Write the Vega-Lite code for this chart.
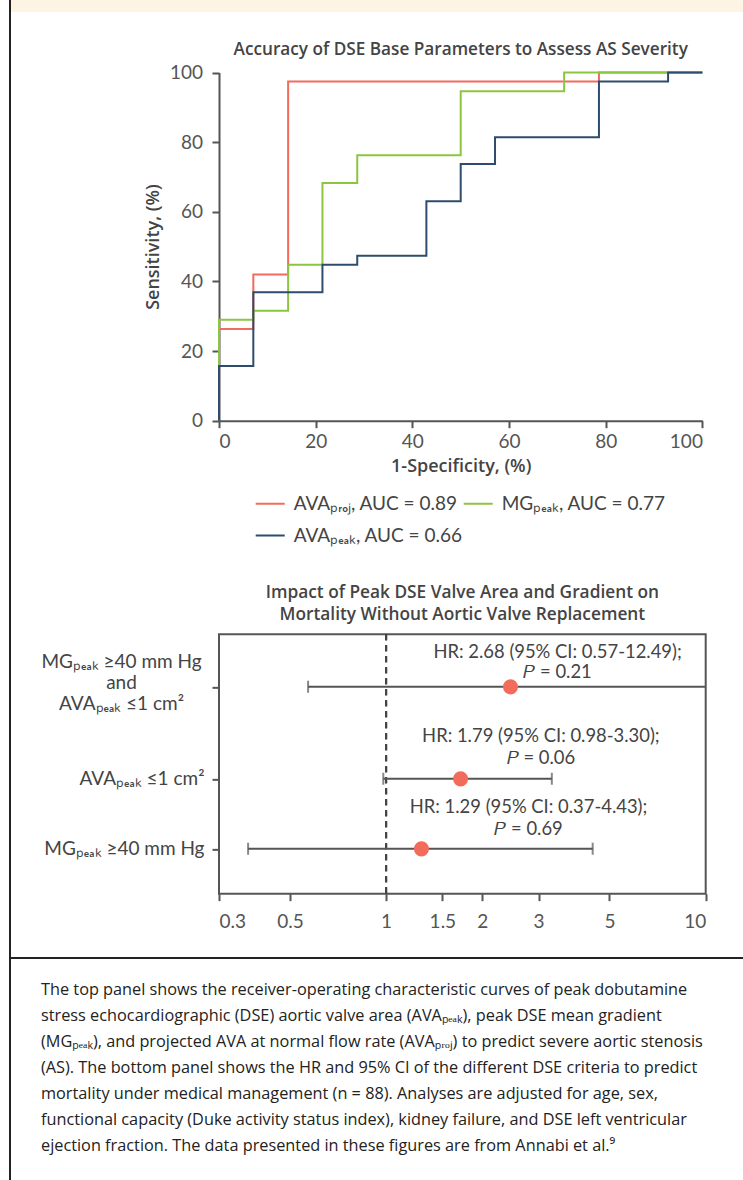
{
  "$schema": "https://vega.github.io/schema/vega-lite/v6.json",
  "padding": {"left": 9, "top": 0, "right": 0, "bottom": 0},
  "autosize": {"type": "pad"},
  "background": "white",
  "bounds": "flush",
  "spacing": 0,
  "config": {
    "font": "Lato",
    "view": {"stroke": null},
    "axis": {"grid": false, "labelFont": "Lato", "titleFont": "Open Sans"},
    "legend": {"labelFont": "Lato"},
    "title": {"font": "Open Sans"}
  },
  "datasets": {
    "roc": [
      {"series": "AVAₚᵣₒⱼ, AUC = 0.89", "k": 0, "fpr": 0, "tpr": 0},
      {"series": "AVAₚᵣₒⱼ, AUC = 0.89", "k": 1, "fpr": 0, "tpr": 26.3},
      {"series": "AVAₚᵣₒⱼ, AUC = 0.89", "k": 2, "fpr": 7.1, "tpr": 42.0},
      {"series": "AVAₚᵣₒⱼ, AUC = 0.89", "k": 3, "fpr": 14.3, "tpr": 97.4},
      {"series": "AVAₚᵣₒⱼ, AUC = 0.89", "k": 4, "fpr": 78.6, "tpr": 100},
      {"series": "AVAₚᵣₒⱼ, AUC = 0.89", "k": 5, "fpr": 100, "tpr": 100},
      {"series": "MGₚₑₐₖ, AUC = 0.77", "k": 0, "fpr": 0, "tpr": 0},
      {"series": "MGₚₑₐₖ, AUC = 0.77", "k": 1, "fpr": 0, "tpr": 29.0},
      {"series": "MGₚₑₐₖ, AUC = 0.77", "k": 2, "fpr": 7.1, "tpr": 31.6},
      {"series": "MGₚₑₐₖ, AUC = 0.77", "k": 3, "fpr": 14.3, "tpr": 44.8},
      {"series": "MGₚₑₐₖ, AUC = 0.77", "k": 4, "fpr": 21.4, "tpr": 68.3},
      {"series": "MGₚₑₐₖ, AUC = 0.77", "k": 5, "fpr": 28.6, "tpr": 76.2},
      {"series": "MGₚₑₐₖ, AUC = 0.77", "k": 6, "fpr": 50.0, "tpr": 94.6},
      {"series": "MGₚₑₐₖ, AUC = 0.77", "k": 7, "fpr": 71.4, "tpr": 100},
      {"series": "MGₚₑₐₖ, AUC = 0.77", "k": 8, "fpr": 100, "tpr": 100},
      {"series": "AVAₚₑₐₖ, AUC = 0.66", "k": 0, "fpr": 0, "tpr": 0},
      {"series": "AVAₚₑₐₖ, AUC = 0.66", "k": 1, "fpr": 0, "tpr": 15.7},
      {"series": "AVAₚₑₐₖ, AUC = 0.66", "k": 2, "fpr": 7.1, "tpr": 36.9},
      {"series": "AVAₚₑₐₖ, AUC = 0.66", "k": 3, "fpr": 21.4, "tpr": 44.8},
      {"series": "AVAₚₑₐₖ, AUC = 0.66", "k": 4, "fpr": 28.6, "tpr": 47.4},
      {"series": "AVAₚₑₐₖ, AUC = 0.66", "k": 5, "fpr": 42.9, "tpr": 63.0},
      {"series": "AVAₚₑₐₖ, AUC = 0.66", "k": 6, "fpr": 50.0, "tpr": 73.7},
      {"series": "AVAₚₑₐₖ, AUC = 0.66", "k": 7, "fpr": 57.1, "tpr": 81.4},
      {"series": "AVAₚₑₐₖ, AUC = 0.66", "k": 8, "fpr": 78.6, "tpr": 97.4},
      {"series": "AVAₚₑₐₖ, AUC = 0.66", "k": 9, "fpr": 92.9, "tpr": 100},
      {"series": "AVAₚₑₐₖ, AUC = 0.66", "k": 10, "fpr": 100, "tpr": 100}
    ],
    "forest": [
      {"row": 1, "hr": 2.45, "lo": 0.57, "hi": 12.49, "label": "HR: 2.68 (95% CI: 0.57-12.49);\n𝑃 = 0.21"},
      {"row": 2, "hr": 1.71, "lo": 0.98, "hi": 3.30, "label": "HR: 1.79 (95% CI: 0.98-3.30);\n𝑃 = 0.06"},
      {"row": 3, "hr": 1.29, "lo": 0.37, "hi": 4.43, "label": "HR: 1.29 (95% CI: 0.37-4.43);\n𝑃 = 0.69"}
    ]
  },
  "hconcat": [
    {"width": 2, "height": 1180, "data": {"values": []}, "mark": "point", "view": {"fill": "#222222", "stroke": null}},
    {
      "spacing": 0,
      "vconcat": [
        {"width": 732, "height": 12, "data": {"values": []}, "mark": "point", "view": {"fill": "#fef4e4", "stroke": null}},
        {
          "bounds": "flush",
          "spacing": 0,
          "hconcat": [
            {"width": 207.3, "height": 558.6, "data": {"values": []}, "mark": "point"},
            {
              "width": 483.4,
              "height": 408.7,
              "title": {"text": "Accuracy of DSE Base Parameters to Assess AS Severity", "frame": "group", "anchor": "middle", "baseline": "alphabetic", "offset": -60.2, "fontSize": 17.2, "fontWeight": 600, "color": "#444444"},
              "layer": [
                {
                  "mark": {"type": "rule", "color": "#444444", "strokeWidth": 2},
                  "encoding": {"x": {"datum": 0, "type": "quantitative"}, "y": {"datum": 0, "type": "quantitative"}, "x2": {"datum": 100}, "y2": {"datum": 100}}
                },
                {
                  "data": {"name": "roc"},
                  "mark": {"type": "line", "interpolate": "step-after", "strokeWidth": 2},
                  "encoding": {
                    "x": {"field": "fpr", "type": "quantitative", "scale": {"domain": [0, 100], "nice": false},
                      "axis": {"values": [0, 20, 40, 60, 80, 100], "title": "1-Specificity, (%)", "tickSize": 7, "tickWidth": 2, "tickColor": "#555555", "domainColor": "#555555", "domainWidth": 2, "labelFontSize": 19, "labelColor": "#555555", "labelPadding": 5, "titleFontSize": 18, "titleFontWeight": 600, "titleColor": "#444444", "titlePadding": 6}},
                    "y": {"field": "tpr", "type": "quantitative", "scale": {"domain": [0, 100], "range": [408.7, 60.5], "nice": false},
                      "axis": {"values": [0, 20, 40, 60, 80, 100], "title": "Sensitivity, (%)", "tickSize": 7, "tickWidth": 2, "tickColor": "#555555", "domainColor": "#555555", "domainWidth": 2, "labelFontSize": 19, "labelColor": "#555555", "labelPadding": 9.5, "titleFontSize": 18, "titleFontWeight": 600, "titleColor": "#444444", "titlePadding": 7}},
                    "color": {"field": "series", "type": "nominal",
                      "scale": {"domain": ["AVAₚᵣₒⱼ, AUC = 0.89", "MGₚₑₐₖ, AUC = 0.77", "AVAₚₑₐₖ, AUC = 0.66"], "range": ["#f26b5b", "#8cc540", "#2e4c6d"]},
                      "legend": {"orient": "none", "legendX": 245.7, "legendY": 488, "direction": "horizontal", "columns": 2, "title": null, "symbolType": "stroke", "symbolSize": 841, "symbolStrokeWidth": 2, "labelFontSize": 19, "labelColor": "#444444", "labelOffset": 8, "columnPadding": -15, "rowPadding": 6, "labelLimit": 0}},
                    "order": {"field": "k", "type": "quantitative"}
                  }
                }
              ]
            }
          ]
        },
        {
          "bounds": "flush",
          "spacing": 0,
          "center": true,
          "hconcat": [
            {"width": 207.3, "height": 385.1, "data": {"values": []}, "mark": "point"},
            {
              "width": 486.7,
              "height": 259.3,
              "view": {"stroke": "#555555", "strokeWidth": 2},
              "title": {"text": ["Impact of Peak DSE Valve Area and Gradient on", "Mortality Without Aortic Valve Replacement"], "frame": "group", "anchor": "middle", "offset": 10, "fontSize": 17.3, "lineHeight": 21.7, "fontWeight": 600, "color": "#444444"},
              "data": {"name": "forest"},
              "layer": [
                {
                  "mark": {"type": "rule", "strokeDash": [6, 5], "strokeWidth": 2, "color": "#444444"},
                  "encoding": {"x": {"datum": 1, "type": "quantitative"}}
                },
                {
                  "mark": {"type": "rule", "strokeWidth": 2, "color": "#555555", "clip": true},
                  "encoding": {
                    "x": {"field": "lo", "type": "quantitative", "scale": {"type": "log", "domain": [0.3, 10], "nice": false},
                      "axis": {"values": [0.3, 0.5, 1, 1.5, 2, 3, 5, 10], "format": "~g", "title": null, "domain": false, "tickSize": 7, "tickWidth": 2, "tickColor": "#555555", "labelFontSize": 19, "labelColor": "#555555", "labelPadding": 12}},
                    "x2": {"field": "hi"},
                    "y": {"field": "row", "type": "quantitative", "scale": {"domain": [0, 1, 2, 3, 4], "range": [0, 52.5, 144.5, 214.5, 259.3], "nice": false, "zero": false},
                      "axis": {"values": [1, 2, 3], "title": null, "domain": false, "tickSize": 7, "tickWidth": 2, "tickColor": "#555555", "labelFontSize": 19, "labelColor": "#444444", "labelLineHeight": 21,
                        "labelExpr": "datum.value == 1 ? ['MGₚₑₐₖ ≥40 mm Hg', 'and', 'AVAₚₑₐₖ ≤1 cm²'] : datum.value == 2 ? 'AVAₚₑₐₖ ≤1 cm²' : 'MGₚₑₐₖ ≥40 mm Hg'",
                        "labelAlign": {"condition": {"test": "datum.value == 1", "value": "center"}, "value": "right"},
                        "labelPadding": {"condition": {"test": "datum.value == 1", "value": 91}, "value": 8},
                        "labelOffset": {"condition": {"test": "datum.value == 1", "value": -25}, "value": 0}}}
                  }
                },
                {
                  "mark": {"type": "tick", "orient": "vertical", "size": 12, "thickness": 2, "color": "#555555", "clip": true},
                  "encoding": {"x": {"field": "lo", "type": "quantitative"}, "y": {"field": "row", "type": "quantitative"}}
                },
                {
                  "mark": {"type": "tick", "orient": "vertical", "size": 12, "thickness": 2, "color": "#555555", "clip": true},
                  "encoding": {"x": {"field": "hi", "type": "quantitative"}, "y": {"field": "row", "type": "quantitative"}}
                },
                {
                  "mark": {"type": "circle", "size": 227, "color": "#f26b5b", "opacity": 1},
                  "encoding": {"x": {"field": "hr", "type": "quantitative"}, "y": {"field": "row", "type": "quantitative"}}
                },
                {
                  "transform": [{"filter": "datum.row == 1"}],
                  "mark": {"type": "text", "lineBreak": "\n", "fontSize": 18.4, "lineHeight": 20, "color": "#444444", "baseline": "middle", "dy": -35},
                  "encoding": {"x": {"datum": 3.44, "type": "quantitative"}, "y": {"field": "row", "type": "quantitative"}, "text": {"field": "label"}}
                },
                {
                  "transform": [{"filter": "datum.row == 2"}],
                  "mark": {"type": "text", "lineBreak": "\n", "fontSize": 18.4, "lineHeight": 21.7, "color": "#444444", "baseline": "middle", "dy": -43},
                  "encoding": {"x": {"datum": 3.05, "type": "quantitative"}, "y": {"field": "row", "type": "quantitative"}, "text": {"field": "label"}}
                },
                {
                  "transform": [{"filter": "datum.row == 3"}],
                  "mark": {"type": "text", "lineBreak": "\n", "fontSize": 18.4, "lineHeight": 21.7, "color": "#444444", "baseline": "middle", "dy": -42},
                  "encoding": {"x": {"datum": 2.79, "type": "quantitative"}, "y": {"field": "row", "type": "quantitative"}, "text": {"field": "label"}}
                }
              ]
            }
          ]
        },
        {"width": 732, "height": 2, "data": {"values": []}, "mark": "point", "view": {"fill": "#222222", "stroke": null}},
        {"width": 732, "height": 22, "data": {"values": []}, "mark": "point"},
        {
          "width": 730,
          "height": 1,
          "data": {"values": []},
          "mark": "point",
          "title": {
            "text": [
              "The top panel shows the receiver-operating characteristic curves of peak dobutamine",
              "stress echocardiographic (DSE) aortic valve area (AVAₚₑₐₖ), peak DSE mean gradient",
              "(MGₚₑₐₖ), and projected AVA at normal flow rate (AVAₚᵣₒⱼ) to predict severe aortic stenosis",
              "(AS). The bottom panel shows the HR and 95% CI of the different DSE criteria to predict",
              "mortality under medical management (n = 88). Analyses are adjusted for age, sex,",
              "functional capacity (Duke activity status index), kidney failure, and DSE left ventricular",
              "ejection fraction. The data presented in these figures are from Annabi et al.⁹"
            ],
            "frame": "group", "anchor": "start", "offset": 0, "dx": 30,
            "fontSize": 16.3, "lineHeight": 26, "fontWeight": "normal", "color": "#222222", "limit": 0
          }
        }
      ]
    }
  ]
}
